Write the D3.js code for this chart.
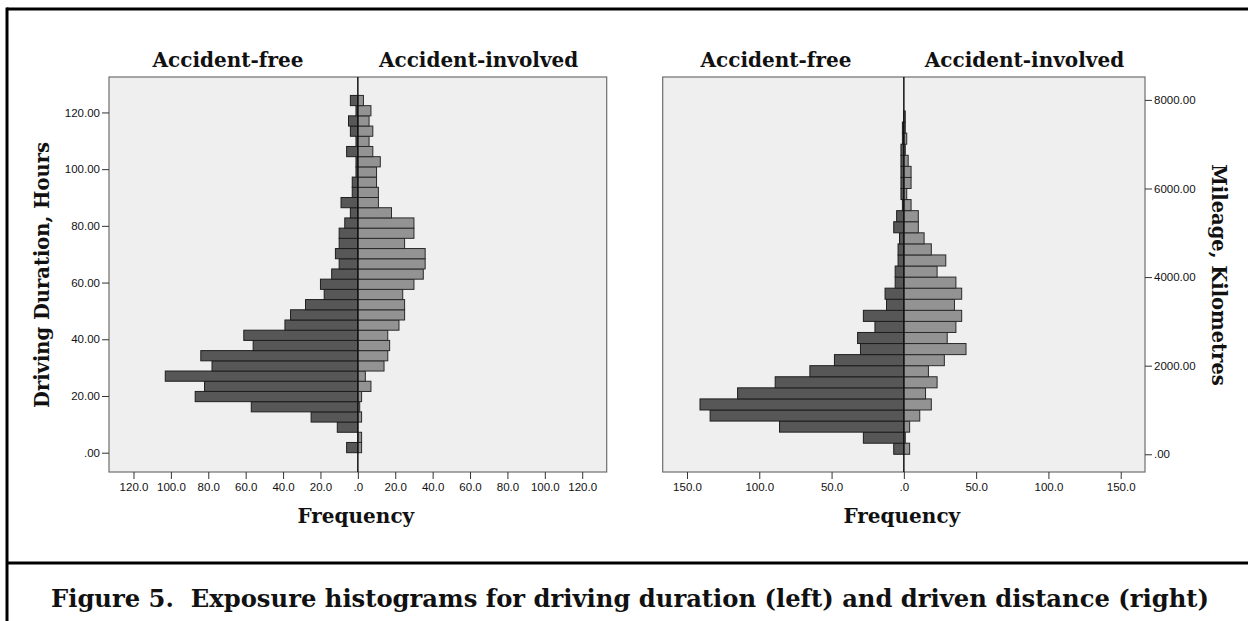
<!DOCTYPE html>
<html><head><meta charset="utf-8">
<script src="https://cdn.jsdelivr.net/npm/d3@7/dist/d3.min.js"></script>
<style>
html,body{margin:0;padding:0;background:#fff;}
svg{display:block;}
.tick text{font-family:"Liberation Sans",Arial,sans-serif;font-size:11.5px;fill:#111;}
.ttl{font-family:"DejaVu Serif",Georgia,serif;font-weight:bold;fill:#111;}
</style></head>
<body>
<svg id="c" width="1248" height="621"></svg>
<script>
// ---- data ----
const hoursBins = [0,3.6,7.2,10.8,14.4,18,21.6,25.2,28.8,32.4,36,39.6,43.2,46.8,50.4,54,57.6,61.2,64.8,68.4,72,75.6,79.2,82.8,86.4,90,93.6,97.2,100.8,104.4,108,111.6,115.2,118.8,122.4];
const hoursBinWidth = 3.6;
const hoursFree     = [6,0,11,25,57,87,82,103,78,84,56,61,39,36,28,18,20,14,10,12,10,10,7,4,9,3,3,1,1,6,1,4,5,1,4];
const hoursInvolved = [2,2,0,2,1,2,7,4,14,16,17,16,22,25,25,24,30,35,36,36,25,30,30,18,11,11,10,10,12,8,6,8,6,7,3];
const hoursTicks = [0,20,40,60,80,100,120];
const hoursFreqTicks = [-120,-100,-80,-60,-40,-20,0,20,40,60,80,100,120];

const kmBins = [0,250,500,750,1000,1250,1500,1750,2000,2250,2500,2750,3000,3250,3500,3750,4000,4250,4500,4750,5000,5250,5500,5750,6000,6250,6500,6750,7000,7250,7500];
const kmBinWidth = 250;
const kmFree     = [7,28,86,134,141,115,89,65,48,30,32,20,28,12,13,6,6,4,4,3,7,5,1,2,2,2,2,2,1,1,0];
const kmInvolved = [4,1,4,11,19,15,23,17,28,43,30,36,40,35,40,36,23,29,19,14,10,10,5,2,5,5,3,1,2,1,1];
const kmTicks = [0,2000,4000,6000,8000];
const kmFreqTicks = [-150,-100,-50,0,50,100,150];

const groupLabels = ["Accident-free","Accident-involved"];
const xTitle = "Frequency";
const yTitleLeft = "Driving Duration, Hours";
const yTitleRight = "Mileage, Kilometres";
const caption = "Figure 5.  Exposure histograms for driving duration (left) and driven distance (right)";

const svg = d3.select("#c");

// frame
svg.append("line").attr("x1",7).attr("x2",1250).attr("y1",9).attr("y2",9).attr("stroke","#000").attr("stroke-width",3);
svg.append("line").attr("x1",7).attr("x2",7).attr("y1",7.5).attr("y2",625).attr("stroke","#000").attr("stroke-width",3);
svg.append("line").attr("x1",7).attr("x2",1250).attr("y1",563).attr("y2",563).attr("stroke","#000").attr("stroke-width",3);

svg.append("text").attr("class","ttl").attr("x",51).attr("y",607)
  .attr("text-anchor","start").style("font-size","24px")
  .attr("textLength",1158).attr("lengthAdjust","spacingAndGlyphs")
  .style("white-space","pre").text(caption);

function panel(opt){
  const g = svg.append("g");
  const x = d3.scaleLinear().domain([-opt.xMax, opt.xMax]).range([opt.x0, opt.x1]);
  const y = d3.scaleLinear().domain(opt.yDom).range([472, 77]);
  g.append("rect").attr("x",opt.x0).attr("y",77).attr("width",opt.x1-opt.x0).attr("height",472-77)
    .attr("fill","#efefef").attr("stroke","#6e6e6e").attr("stroke-width",1.2);
  g.selectAll("rect.free").data(opt.bins.map((b,i)=>({b,v:opt.free[i]})).filter(d=>d.v>0)).join("rect")
    .attr("class","free")
    .attr("x",d=>x(-d.v)).attr("width",d=>x(0)-x(-d.v))
    .attr("y",d=>y(d.b+opt.bw)).attr("height",d=>y(d.b)-y(d.b+opt.bw))
    .attr("fill","#575757").attr("stroke","#1e1e1e").attr("stroke-width",1);
  g.selectAll("rect.inv").data(opt.bins.map((b,i)=>({b,v:opt.inv[i]})).filter(d=>d.v>0)).join("rect")
    .attr("class","inv")
    .attr("x",x(0)).attr("width",d=>x(d.v)-x(0))
    .attr("y",d=>y(d.b+opt.bw)).attr("height",d=>y(d.b)-y(d.b+opt.bw))
    .attr("fill","#939393").attr("stroke","#2a2a2a").attr("stroke-width",1);
  g.append("line").attr("x1",x(0)).attr("x2",x(0)).attr("y1",77).attr("y2",472)
    .attr("stroke","#111").attr("stroke-width",1.5);
  const xa = g.append("g").attr("transform","translate(0,472)")
    .call(d3.axisBottom(x).tickValues(opt.xTicks).tickSize(7).tickPadding(4)
      .tickFormat(d=> d===0 ? ".0" : Math.abs(d).toFixed(1)));
  xa.select(".domain").remove();
  xa.selectAll(".tick line").attr("stroke","#333");
  const fmt = d=> d===0 ? ".00" : d.toFixed(2);
  if(opt.side==="left"){
    const ya = g.append("g").attr("transform",`translate(${opt.x0},0)`)
      .call(d3.axisLeft(y).tickValues(opt.yTicks).tickSize(7).tickPadding(2).tickFormat(fmt));
    ya.select(".domain").remove();
    ya.selectAll(".tick line").attr("stroke","#333");
  } else {
    const ya = g.append("g").attr("transform",`translate(${opt.x1},0)`)
      .call(d3.axisRight(y).tickValues(opt.yTicks).tickSize(7).tickPadding(2).tickFormat(fmt));
    ya.select(".domain").remove();
    ya.selectAll(".tick line").attr("stroke","#333");
  }
  g.append("text").attr("class","ttl").attr("x",opt.hl).attr("y",67).attr("text-anchor","middle")
    .style("font-size","20px").text(groupLabels[0]);
  g.append("text").attr("class","ttl").attr("x",opt.hr).attr("y",67).attr("text-anchor","middle")
    .style("font-size","20px").text(groupLabels[1]);
  g.append("text").attr("class","ttl").attr("x",x(0)-2).attr("y",523).attr("text-anchor","middle")
    .style("font-size","20px").text(xTitle);
  g.append("text").attr("class","ttl").attr("text-anchor","middle")
    .attr("transform",`translate(${opt.ytX},275) rotate(${opt.side==="left"?-90:90})`)
    .attr("dy", "0.35em")
    .style("font-size","19.5px").text(opt.yTitle);
}

panel({x0:109, x1:606.7, xMax:133.1, yDom:[-6.81,132.5], bins:hoursBins, bw:hoursBinWidth,
  free:hoursFree, inv:hoursInvolved, xTicks:hoursFreqTicks, yTicks:hoursTicks, side:"left",
  hl:228, hr:478.6, ytX:42, yTitle:yTitleLeft});
panel({x0:662.7, x1:1145, xMax:166.8, yDom:[-400,8517], bins:kmBins, bw:kmBinWidth,
  free:kmFree, inv:kmInvolved, xTicks:kmFreqTicks, yTicks:kmTicks, side:"right",
  hl:776, hr:1024.5, ytX:1219, yTitle:yTitleRight});
</script>
</body></html>
